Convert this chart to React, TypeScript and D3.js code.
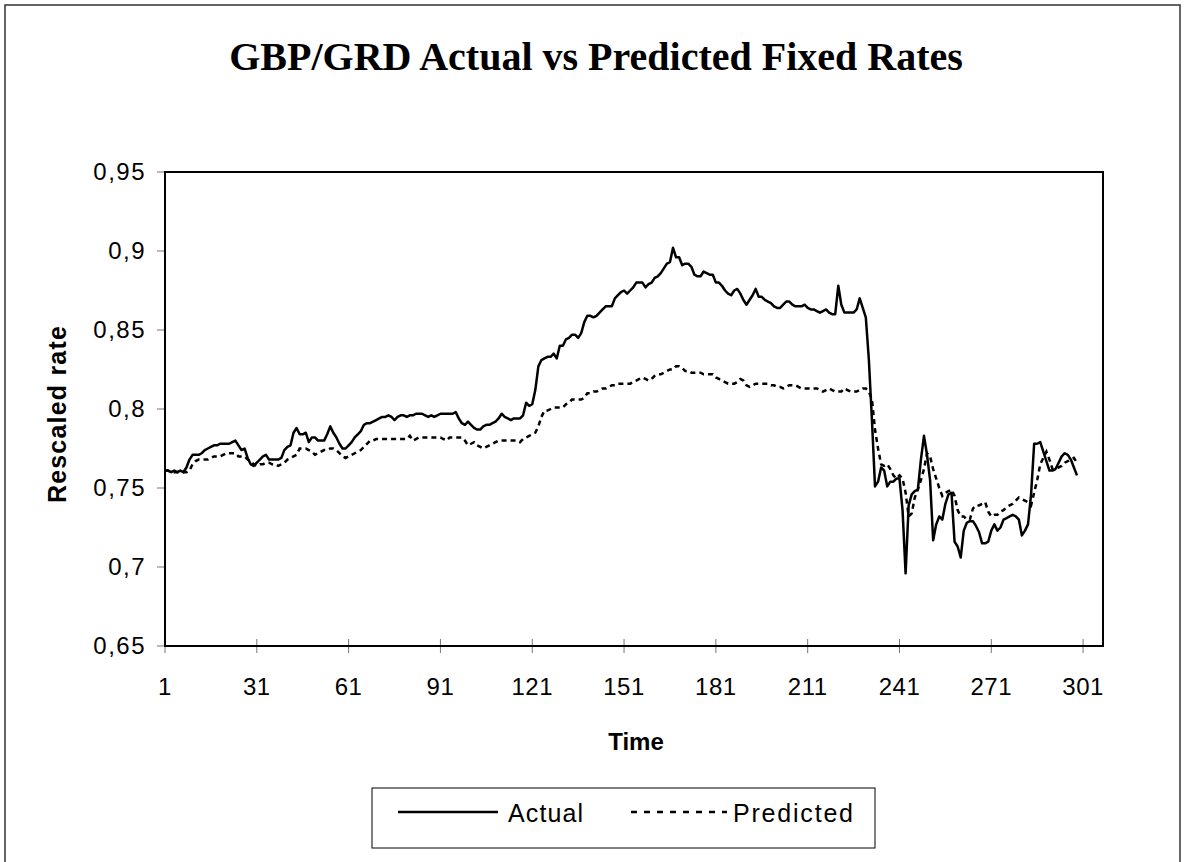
import React from 'react';
import * as d3 from 'd3';

const xTicks = [1, 31, 61, 91, 121, 151, 181, 211, 241, 271, 301];
const yTicks = [0.65, 0.7, 0.75, 0.8, 0.85, 0.9, 0.95];

const actual = [
  0.761,0.761,0.760,0.761,0.760,0.761,0.760,0.763,0.768,0.771,
  0.771,0.771,0.772,0.774,0.775,0.776,0.777,0.777,0.778,0.778,
  0.778,0.778,0.779,0.780,0.777,0.774,0.775,0.769,0.765,0.764,
  0.766,0.768,0.770,0.771,0.768,0.768,0.768,0.768,0.769,0.774,
  0.776,0.777,0.785,0.788,0.784,0.784,0.785,0.779,0.782,0.782,
  0.780,0.780,0.780,0.784,0.789,0.785,0.782,0.778,0.775,0.775,
  0.777,0.779,0.782,0.784,0.786,0.790,0.791,0.791,0.792,0.793,
  0.794,0.795,0.795,0.796,0.795,0.793,0.795,0.796,0.796,0.795,
  0.796,0.796,0.797,0.797,0.797,0.796,0.795,0.796,0.795,0.796,
  0.797,0.797,0.797,0.797,0.797,0.798,0.794,0.791,0.790,0.792,
  0.790,0.788,0.787,0.787,0.789,0.790,0.790,0.791,0.792,0.794,
  0.797,0.795,0.794,0.793,0.794,0.794,0.794,0.796,0.804,0.802,
  0.803,0.812,0.827,0.831,0.832,0.833,0.833,0.835,0.832,0.840,
  0.840,0.844,0.845,0.847,0.847,0.845,0.848,0.855,0.859,0.859,
  0.858,0.859,0.861,0.863,0.865,0.865,0.865,0.870,0.872,0.874,
  0.875,0.873,0.875,0.877,0.880,0.880,0.880,0.877,0.879,0.880,
  0.883,0.884,0.886,0.889,0.892,0.893,0.902,0.896,0.896,0.891,
  0.892,0.892,0.890,0.885,0.884,0.884,0.887,0.886,0.885,0.885,
  0.880,0.880,0.878,0.875,0.873,0.872,0.875,0.876,0.873,0.869,
  0.866,0.869,0.872,0.876,0.871,0.871,0.869,0.868,0.867,0.865,
  0.864,0.864,0.866,0.868,0.868,0.866,0.865,0.865,0.865,0.866,
  0.864,0.863,0.863,0.862,0.861,0.862,0.863,0.861,0.860,0.860,
  0.878,0.866,0.861,0.861,0.861,0.861,0.863,0.870,0.864,0.858,
  0.831,0.793,0.751,0.754,0.763,0.761,0.751,0.754,0.754,0.756,
  0.756,0.736,0.696,0.739,0.746,0.748,0.749,0.768,0.783,0.771,
  0.755,0.717,0.727,0.732,0.730,0.740,0.746,0.747,0.716,0.713,
  0.706,0.723,0.728,0.729,0.729,0.726,0.722,0.715,0.715,0.716,
  0.723,0.727,0.723,0.725,0.730,0.731,0.732,0.733,0.732,0.730,
  0.720,0.723,0.727,0.746,0.778,0.778,0.779,0.773,0.767,0.761,
  0.761,0.762,0.766,0.770,0.772,0.771,0.768,0.763,0.758
];

const predicted = [
  0.761,0.761,0.760,0.760,0.760,0.760,0.760,0.760,0.761,0.765,
  0.767,0.768,0.768,0.768,0.768,0.769,0.770,0.770,0.770,0.771,
  0.772,0.772,0.772,0.772,0.770,0.770,0.770,0.768,0.767,0.765,
  0.764,0.765,0.765,0.766,0.766,0.765,0.765,0.764,0.765,0.766,
  0.768,0.769,0.770,0.771,0.775,0.775,0.775,0.774,0.773,0.771,
  0.772,0.773,0.774,0.774,0.775,0.775,0.774,0.772,0.770,0.769,
  0.770,0.771,0.772,0.773,0.774,0.776,0.778,0.780,0.780,0.781,
  0.781,0.781,0.781,0.781,0.781,0.781,0.781,0.781,0.781,0.781,
  0.783,0.780,0.781,0.782,0.782,0.782,0.782,0.782,0.782,0.782,
  0.782,0.781,0.780,0.782,0.782,0.782,0.782,0.782,0.780,0.777,
  0.778,0.779,0.777,0.776,0.775,0.776,0.777,0.778,0.779,0.780,
  0.780,0.780,0.780,0.780,0.780,0.780,0.779,0.781,0.782,0.783,
  0.784,0.785,0.789,0.795,0.799,0.799,0.800,0.801,0.801,0.801,
  0.801,0.803,0.804,0.806,0.806,0.806,0.806,0.807,0.810,0.810,
  0.811,0.811,0.812,0.813,0.813,0.814,0.815,0.815,0.816,0.816,
  0.816,0.816,0.816,0.817,0.818,0.819,0.820,0.819,0.818,0.819,
  0.821,0.822,0.822,0.823,0.824,0.825,0.825,0.827,0.827,0.826,
  0.824,0.824,0.823,0.823,0.823,0.823,0.822,0.822,0.822,0.822,
  0.820,0.819,0.818,0.817,0.816,0.816,0.816,0.817,0.819,0.818,
  0.815,0.814,0.815,0.816,0.816,0.816,0.816,0.816,0.815,0.815,
  0.814,0.814,0.813,0.814,0.815,0.815,0.815,0.814,0.813,0.813,
  0.813,0.813,0.813,0.813,0.812,0.811,0.812,0.813,0.812,0.811,
  0.811,0.811,0.813,0.812,0.811,0.811,0.811,0.812,0.813,0.813,
  0.811,0.806,0.787,0.775,0.765,0.764,0.765,0.762,0.758,0.756,
  0.758,0.756,0.747,0.732,0.734,0.744,0.749,0.755,0.762,0.772,
  0.770,0.762,0.756,0.750,0.745,0.747,0.748,0.749,0.745,0.736,
  0.732,0.732,0.730,0.730,0.737,0.739,0.739,0.740,0.741,0.735,
  0.732,0.733,0.733,0.735,0.736,0.738,0.739,0.740,0.742,0.744,
  0.743,0.742,0.741,0.739,0.747,0.755,0.765,0.769,0.773,0.768,
  0.762,0.762,0.763,0.764,0.766,0.767,0.768,0.769,0.766
];

const SANS = '"Liberation Sans", Arial, sans-serif';
const SERIF = '"Liberation Serif", "Times New Roman", serif';

export default function App() {
  const W = 1185;
  const H = 862;
  const left = 165, right = 1103, top = 172, bottom = 646;
  const x = d3.scaleLinear().domain([1, 307.5]).range([left, right]);
  const y = d3.scaleLinear().domain([0.65, 0.95]).range([bottom, top]);
  const line = d3.line<number>().x((_, i) => x(i + 1)).y((d) => y(d));
  const fmt = (v: number) => d3.format('.2~f')(v).replace('.', ',');

  return (
    <svg width={W} height={H} style={{ position: 'absolute', left: 0, top: 0, background: '#fff' }}>
      <rect x={0} y={0} width={W} height={H} fill="#fff" />
      <rect x={5} y={5} width={1175} height={900} fill="none" stroke="#333" strokeWidth={1.5} />
      <text x={596} y={70} textAnchor="middle" fontFamily={SERIF} fontWeight="bold" fontSize={40} fill="#000">
        GBP/GRD Actual vs Predicted Fixed Rates
      </text>

      {/* y ticks */}
      {yTicks.map((t) => (
        <g key={'y' + t}>
          <line x1={157} x2={left} y1={y(t)} y2={y(t)} stroke="#777" strokeWidth={1} />
          <text x={146} y={y(t)} dy="0.35em" textAnchor="end" fontFamily={SANS} fontSize={24} letterSpacing={1.5} fill="#000">
            {fmt(t)}
          </text>
        </g>
      ))}
      {/* x ticks */}
      {xTicks.map((t) => (
        <g key={'x' + t}>
          <line x1={x(t)} x2={x(t)} y1={bottom - 7} y2={bottom + 7} stroke="#777" strokeWidth={1} />
          <text x={x(t)} y={695} textAnchor="middle" fontFamily={SANS} fontSize={24} letterSpacing={0.5} fill="#000">
            {t}
          </text>
        </g>
      ))}

      <path d={line(predicted) || ''} fill="none" stroke="#000" strokeWidth={2.5} strokeDasharray="5,4" />
      <path d={line(actual) || ''} fill="none" stroke="#000" strokeWidth={2.5} strokeLinejoin="round" />

      <rect x={left} y={top} width={right - left} height={bottom - top} fill="none" stroke="#000" strokeWidth={2} />

      <text x={636} y={750} textAnchor="middle" fontFamily={SANS} fontWeight="bold" fontSize={24} fill="#000">
        Time
      </text>
      <text transform="translate(66,414) rotate(-90)" textAnchor="middle" fontFamily={SANS} fontWeight="bold" fontSize={25} letterSpacing={1.2} fill="#000">
        Rescaled rate
      </text>

      {/* legend */}
      <rect x={372} y={788} width={503} height={60} fill="#fff" stroke="#000" strokeWidth={1} />
      <line x1={398} x2={498} y1={812} y2={812} stroke="#000" strokeWidth={2.5} />
      <text x={508} y={822} fontFamily={SANS} fontSize={25} textLength={75} lengthAdjust="spacing" fill="#000">Actual</text>
      <line x1={631} x2={727} y1={812} y2={812} stroke="#000" strokeWidth={2.5} strokeDasharray="6,7" />
      <text x={733} y={822} fontFamily={SANS} fontSize={25} textLength={120} lengthAdjust="spacing" fill="#000">Predicted</text>
    </svg>
  );
}
